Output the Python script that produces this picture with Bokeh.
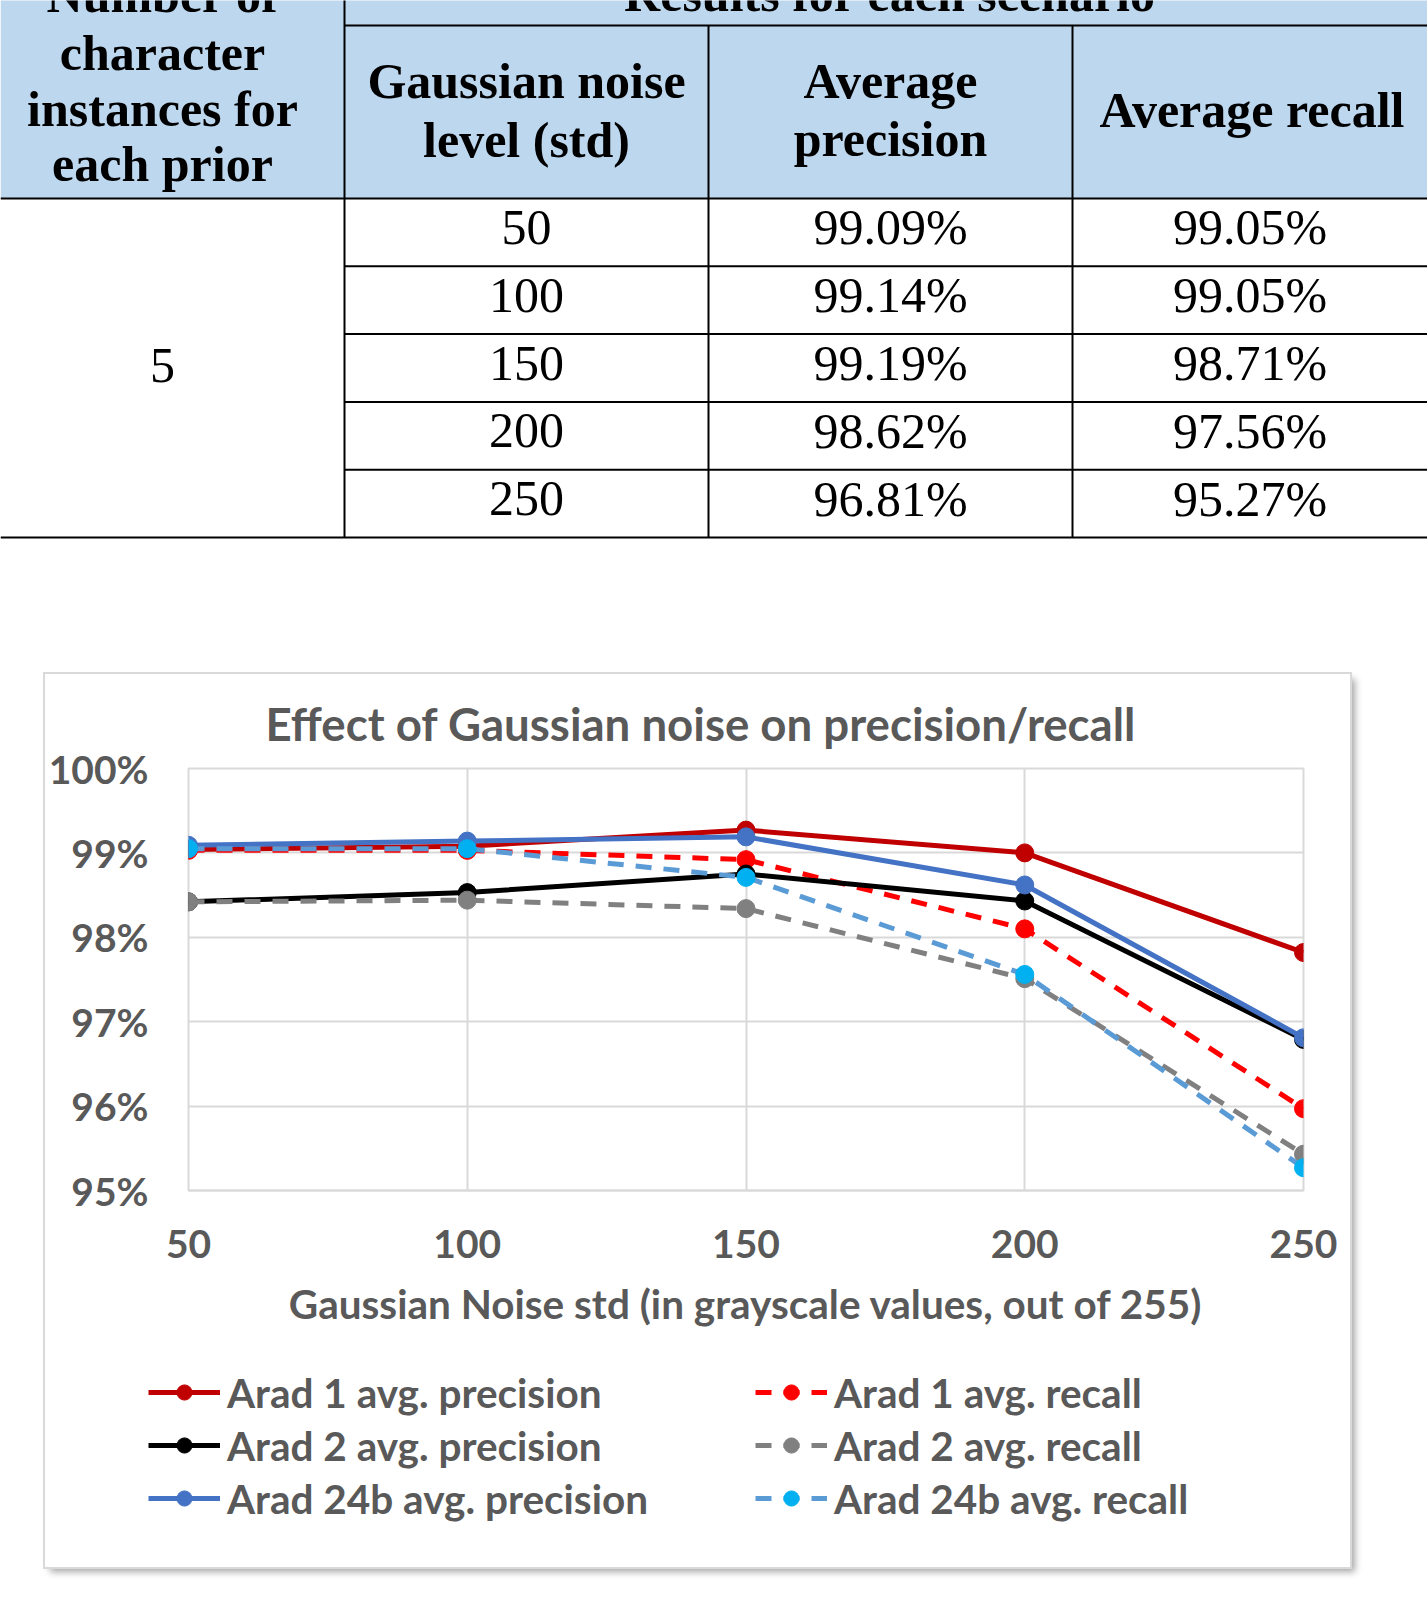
from bokeh.plotting import figure
from bokeh.models import (Range1d, FixedTicker, PrintfTickFormatter, Legend,
                          LegendItem, Title, Spacer)
from bokeh.layouts import column, row
from bokeh.core.properties import value
from bokeh.embed import file_html
from bokeh.resources import INLINE

# ---------------- data ----------------
noise_levels = [50, 100, 150, 200, 250]
instances_per_prior = "5"

arad1_precision = [99.04, 99.08, 99.27, 99.00, 97.82]
arad1_recall = [99.03, 99.03, 98.92, 98.10, 95.97]
arad2_precision = [98.42, 98.53, 98.75, 98.43, 96.79]
arad2_recall = [98.42, 98.44, 98.34, 97.51, 95.43]
arad24b_precision = [99.09, 99.14, 99.19, 98.62, 96.81]
arad24b_recall = [99.05, 99.05, 98.71, 97.56, 95.27]

y_ticks = [95, 96, 97, 98, 99, 100]

# ---------------- results table ----------------
W = 1427
TH = 674
SERIF = "Liberation Serif"
BASE_SHIFT = -20  # text glyph baseline correction for 50px text

t = figure(width=W, height=TH, x_range=Range1d(0, W), y_range=Range1d(TH, 0),
           x_axis_type=None, y_axis_type=None, toolbar_location=None,
           output_backend="svg", min_border=0, outline_line_color=None)
t.grid.visible = False
t.frame_align = False

col_edges = [0, 344, 708, 1072, W]
col_centers = [162, (344 + 708) / 2, (708 + 1072) / 2, (1072 + W) / 2]
head_split = 25
head_bottom = 198
row_h = 67.8
row_edges = [head_bottom + i * row_h for i in range(len(noise_levels) + 1)]
table_bottom = row_edges[-1]

t.quad(left=0, right=W, top=-5, bottom=head_bottom,
       fill_color="#BDD7EE", line_color=None)

x0s, y0s, x1s, y1s = [], [], [], []
def seg(a, b, c, d):
    x0s.append(a); y0s.append(b); x1s.append(c); y1s.append(d)

seg(col_edges[1], head_split, W, head_split)
seg(0, head_bottom, W, head_bottom)
for r in row_edges[1:-1]:
    seg(col_edges[1], r, W, r)
seg(0, table_bottom, W, table_bottom)
seg(col_edges[1], -5, col_edges[1], table_bottom)
seg(col_edges[2], head_split, col_edges[2], table_bottom)
seg(col_edges[3], head_split, col_edges[3], table_bottom)
t.segment(x0=x0s, y0=y0s, x1=x1s, y1=y1s, line_color="black", line_width=2)

# header texts (bold)
hx, hy, ht = [], [], []
for s, yb in zip(["Number of", "character", "instances for", "each prior"], [14, 72, 128, 183]):
    hx.append(col_centers[0]); hy.append(yb); ht.append(s)
hx.append((col_edges[1] + W) / 2 + 4); hy.append(13); ht.append("Results for each scenario")
hx += [col_centers[1], col_centers[1]]; hy += [100, 159]; ht += ["Gaussian noise", "level (std)"]
hx += [col_centers[2], col_centers[2]]; hy += [100, 158]; ht += ["Average", "precision"]
hx.append(col_centers[3] + 2); hy.append(129); ht.append("Average recall")
t.text(x=hx, y=[v + BASE_SHIFT for v in hy], text=ht, text_font=value(SERIF),
       text_font_style="bold", text_font_size="50px", text_align="center",
       text_baseline="alphabetic", text_color="black")

# body texts
bx, by, bt = [], [], []
for i, lvl in enumerate(noise_levels):
    yb = (row_edges[i] + row_edges[i + 1]) / 2 + 15
    bx += [col_centers[1], col_centers[2], col_centers[3]]
    by += [yb, yb, yb]
    bt += [str(lvl), f"{arad24b_precision[i]:.2f}%", f"{arad24b_recall[i]:.2f}%"]
bx.append(col_centers[0]); by.append((head_bottom + table_bottom) / 2 + 17); bt.append(instances_per_prior)
t.text(x=bx, y=[v + BASE_SHIFT for v in by], text=bt, text_font=value(SERIF),
       text_font_size="50px", text_align="center", text_baseline="alphabetic",
       text_color="black")

# ---------------- line chart ----------------
SANS = "Lato"
GREY_TXT = "#595959"
GRID = "#D9D9D9"
BOX_W = 1305
CHART_H = 676
LEG_H = 217
MARKER = 18

c = figure(width=BOX_W, height=CHART_H, x_range=Range1d(50, 250), y_range=Range1d(95, 100),
           toolbar_location=None, output_backend="svg",
           min_border_left=141, min_border_right=47, min_border_top=94, min_border_bottom=160,
           background_fill_color="white", border_fill_color="white",
           outline_line_color=GRID, outline_line_width=2)
c.frame_align = False

c.add_layout(Title(text="Effect of Gaussian noise on precision/recall",
                   align="left", offset=77, standoff=36,
                   text_font=SANS, text_font_style="bold", text_font_size="45.6px",
                   text_color=GREY_TXT), "above")

c.xaxis.ticker = FixedTicker(ticks=noise_levels)
c.yaxis.ticker = FixedTicker(ticks=y_ticks)
c.xgrid.ticker = FixedTicker(ticks=noise_levels)
c.ygrid.ticker = FixedTicker(ticks=y_ticks)
c.grid.grid_line_color = GRID
c.grid.grid_line_width = 2
c.yaxis.formatter = PrintfTickFormatter(format="%d%%")

for ax in (c.xaxis[0], c.yaxis[0]):
    ax.major_tick_in = 0
    ax.major_tick_out = 0
    ax.minor_tick_in = 0
    ax.minor_tick_out = 0
    ax.major_label_text_font = SANS
    ax.major_label_text_font_style = "bold"
    ax.major_label_text_font_size = "39px"
    ax.major_label_text_color = GREY_TXT
c.yaxis.axis_line_color = None
c.yaxis.major_label_standoff = 40
c.xaxis.axis_line_color = GRID
c.xaxis.axis_line_width = 2
c.xaxis.major_label_standoff = 39
c.xaxis.axis_label = "Gaussian Noise std (in grayscale values, out of 255)"
c.xaxis.axis_label_text_font = SANS
c.xaxis.axis_label_text_font_style = "bold"
c.xaxis.axis_label_text_font_size = "40.5px"
c.xaxis.axis_label_text_color = GREY_TXT
c.xaxis.axis_label_standoff = 18

series = [
    ("Arad 1 avg. precision", arad1_precision, "#C00000", "#C00000", "solid"),
    ("Arad 1 avg. recall", arad1_recall, "#FF0000", "#FF0000", "16 12"),
    ("Arad 2 avg. precision", arad2_precision, "#000000", "#000000", "solid"),
    ("Arad 2 avg. recall", arad2_recall, "#808080", "#808080", "16 12"),
    ("Arad 24b avg. precision", arad24b_precision, "#4472C4", "#4472C4", "solid"),
    ("Arad 24b avg. recall", arad24b_recall, "#5B9BD5", "#00B0F0", "16 12"),
]

for name, vals, lc, mc, dash in series:
    c.line(noise_levels, vals, line_color=lc, line_width=5, line_dash=dash)
    c.scatter(noise_levels, vals, marker="circle", size=MARKER, fill_color=mc, line_color=mc)

# legend strip under the chart: same series styles, keyed in two columns
lg = figure(width=BOX_W, height=LEG_H, x_range=Range1d(0, 1), y_range=Range1d(0, 1),
            x_axis_type=None, y_axis_type=None, toolbar_location=None,
            output_backend="svg", min_border=0, outline_line_color=None,
            background_fill_color="white", border_fill_color="white")
lg.grid.visible = False
lg.frame_align = False
items = []
for name, vals, lc, mc, dash in series:
    ln = lg.line(noise_levels, vals, line_color=lc, line_width=5, line_dash=dash)
    sc = lg.scatter(noise_levels, vals, marker="circle", size=MARKER, fill_color=mc, line_color=mc)
    items.append(LegendItem(label=name, renderers=[ln, sc]))

def make_legend(its, loc):
    return Legend(items=its, location=loc, orientation="vertical",
                  glyph_width=72, glyph_height=38, label_height=50, spacing=3,
                  label_standoff=7, padding=0, margin=0,
                  border_line_color=None, background_fill_alpha=0,
                  label_text_font=SANS, label_text_font_style="bold",
                  label_text_font_size="40.5px", label_text_color=GREY_TXT)

lg.add_layout(make_legend(items[0::2], (103, 44)), "center")
lg.add_layout(make_legend(items[1::2], (710, 44)), "center")

box = column(c, lg)
box.styles = {"box-shadow": "0 0 0 2px #D9D9D9, 5px 5px 7px rgba(0,0,0,0.35)"}

layout = column(t, row(Spacer(width=45, height=CHART_H + LEG_H), box))
open("out.html", "w").write(file_html(layout, INLINE))
